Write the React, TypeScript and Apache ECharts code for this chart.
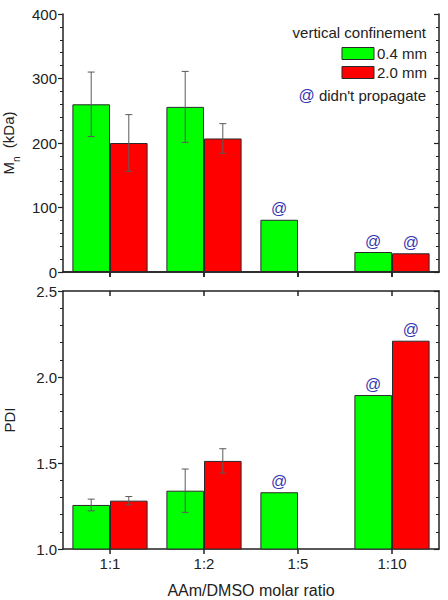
import React, { useEffect, useRef } from "react";
import * as echarts from "echarts";

// AAm/DMSO molar ratios on the shared category axis
const categories = ["1:1", "1:2", "1:5", "1:10"];

// Number-average molecular weight, Mn (kDa)
const mnThin = [260, 256, 81, 31];
const mnThinErr = [50, 55, null, null];
const mnThick = [200, 207, null, 29];
const mnThickErr = [44, 23, null, null];

// Polydispersity index
const pdiThin = [1.256, 1.339, 1.33, 1.895];
const pdiThinErr = [0.034, 0.126, null, null];
const pdiThick = [1.281, 1.512, null, 2.211];
const pdiThickErr = [0.024, 0.071, null, null];

// Samples where the front didn't propagate (marked with "@")
const thinNoProp = [false, false, true, true];
const thickNoProp = [false, false, false, true];

const mnTicks = { min: 0, max: 400, interval: 100 };
const pdiTicks = { min: 1.0, max: 2.5, interval: 0.5 };

const GREEN = "#00ff00";
const RED = "#ff0000";
const BLUE = "#3535b0";
const INK = "#222222";
const FONT = "'Liberation Sans', Arial, sans-serif";

function barSeries(
  name: string,
  values: (number | null)[],
  flags: boolean[],
  color: string,
  axis: number
) {
  return {
    name,
    type: "bar",
    xAxisIndex: axis * 2,
    yAxisIndex: axis * 2,
    barWidth: "40%",
    barGap: "0%",
    itemStyle: { color, borderColor: "#2a2a2a", borderWidth: 1 },
    data: values.map((v, i) =>
      v == null
        ? "-"
        : {
            value: v,
            label: {
              show: flags[i],
              position: "top",
              distance: 3,
              formatter: "@",
              color: BLUE,
              fontSize: 16,
              fontFamily: FONT,
            },
          }
    ),
  };
}

function errorSeries(
  values: (number | null)[],
  errs: (number | null)[],
  side: number,
  axis: number
) {
  const data: number[][] = [];
  values.forEach((v, i) => {
    const e = errs[i];
    if (v != null && e != null) data.push([i, v, e]);
  });
  return {
    type: "custom",
    xAxisIndex: axis * 2,
    yAxisIndex: axis * 2,
    silent: true,
    z: 10,
    encode: { x: 0, y: 1 },
    data,
    renderItem: (_params: any, api: any) => {
      const i = api.value(0);
      const v = api.value(1);
      const e = api.value(2);
      const band = api.size([1, 0])[0];
      const top = api.coord([i, v + e]);
      const bot = api.coord([i, v - e]);
      const x = top[0] + side * band * 0.2;
      const cap = 3.5;
      const style = { stroke: "#5a5a5a", lineWidth: 1 };
      return {
        type: "group",
        children: [
          { type: "line", shape: { x1: x, y1: top[1], x2: x, y2: bot[1] }, style },
          { type: "line", shape: { x1: x - cap, y1: top[1], x2: x + cap, y2: top[1] }, style },
          { type: "line", shape: { x1: x - cap, y1: bot[1], x2: x + cap, y2: bot[1] }, style },
        ],
      };
    },
  };
}

const axisLine = { show: true, lineStyle: { color: INK, width: 1.5 } };

function catAxis(grid: number, position: "top" | "bottom", labels: boolean) {
  return {
    type: "category",
    gridIndex: grid,
    position,
    data: categories,
    axisLine,
    axisTick: {
      show: true,
      alignWithLabel: true,
      inside: position === "top",
      length: 5,
      lineStyle: { color: INK, width: 1.5 },
    },
    axisLabel: {
      show: labels,
      color: INK,
      fontSize: 15,
      fontFamily: FONT,
      margin: 7,
    },
    splitLine: { show: false },
    ...(labels
      ? {
          name: "AAm/DMSO molar ratio",
          nameLocation: "middle",
          nameGap: 33,
          nameTextStyle: { color: INK, fontSize: 16, fontFamily: FONT },
        }
      : {}),
  };
}

function valAxis(
  grid: number,
  position: "left" | "right",
  ticks: { min: number; max: number; interval: number },
  decimals: number,
  name?: string,
  nameGap?: number
) {
  const left = position === "left";
  return {
    type: "value",
    gridIndex: grid,
    position,
    min: ticks.min,
    max: ticks.max,
    interval: ticks.interval,
    axisLine,
    axisTick: { show: true, inside: !left, length: 5, lineStyle: { color: INK, width: 1.2 } },
    minorTick: { show: true, splitNumber: 5, length: 3, lineStyle: { color: INK, width: 1 } },
    axisLabel: {
      show: left,
      color: INK,
      fontSize: 15,
      fontFamily: FONT,
      margin: 6,
      formatter: (v: number) => v.toFixed(decimals),
    },
    splitLine: { show: false },
    minorSplitLine: { show: false },
    ...(name
      ? {
          name,
          nameLocation: "middle",
          nameRotate: 90,
          nameGap,
          nameTextStyle: {
            color: INK,
            fontSize: 15,
            fontFamily: FONT,
            rich: {
              a: { fontSize: 15, fontFamily: FONT, color: INK, padding: [0, 0, 5, 0] },
              s: { fontSize: 10, fontFamily: FONT, color: INK, verticalAlign: "bottom" },
            },
          },
        }
      : {}),
  };
}

export default function App() {
  const ref = useRef<HTMLDivElement>(null);

  useEffect(() => {
    if (!ref.current) return;
    const chart = echarts.init(ref.current, null, { renderer: "svg" });
    chart.setOption({
      animation: false,
      backgroundColor: "#ffffff",
      textStyle: { fontFamily: FONT },
      grid: [
        { left: 63, right: 9, top: 14, height: 258, outerBoundsMode: "none" },
        { left: 63, right: 9, top: 291, height: 258, outerBoundsMode: "none" },
      ],
      legend: {
        data: ["0.4 mm", "2.0 mm"],
        orient: "vertical",
        right: 16,
        top: 41,
        padding: 5,
        icon: "rect",
        itemWidth: 32,
        itemHeight: 12,
        itemGap: 4,
        align: "left",
        selectedMode: false,
        itemStyle: { borderColor: "#2a2a2a", borderWidth: 1 },
        textStyle: { color: INK, fontSize: 15, fontFamily: FONT, padding: [0, 0, 0, -2] },
      },
      graphic: [
        {
          type: "text",
          right: 22,
          top: 25,
          style: { text: "vertical confinement", fill: INK, fontSize: 15, fontFamily: FONT },
        },
        {
          type: "text",
          right: 22,
          top: 87,
          style: {
            text: "{b|@} didn't propagate",
            fill: INK,
            fontSize: 15,
            fontFamily: FONT,
            rich: { b: { fill: BLUE, fontSize: 16, fontFamily: FONT } },
          },
        },
      ],
      xAxis: [
        catAxis(0, "bottom", false),
        catAxis(0, "top", false),
        catAxis(1, "bottom", true),
        catAxis(1, "top", false),
      ],
      yAxis: [
        valAxis(0, "left", mnTicks, 0, "{a|M}{s|n}{a|  (kDa)}", 42),
        valAxis(0, "right", mnTicks, 0),
        valAxis(1, "left", pdiTicks, 1, "PDI", 46),
        valAxis(1, "right", pdiTicks, 1),
      ],
      series: [
        barSeries("0.4 mm", mnThin, thinNoProp, GREEN, 0),
        barSeries("2.0 mm", mnThick, thickNoProp, RED, 0),
        errorSeries(mnThin, mnThinErr, -1, 0),
        errorSeries(mnThick, mnThickErr, 1, 0),
        barSeries("0.4 mm", pdiThin, thinNoProp, GREEN, 1),
        barSeries("2.0 mm", pdiThick, thickNoProp, RED, 1),
        errorSeries(pdiThin, pdiThinErr, -1, 1),
        errorSeries(pdiThick, pdiThickErr, 1, 1),
      ],
    });
    return () => chart.dispose();
  }, []);

  return (
    <div
      ref={ref}
      style={{ position: "absolute", left: 0, top: 0, width: 448, height: 600 }}
    />
  );
}
